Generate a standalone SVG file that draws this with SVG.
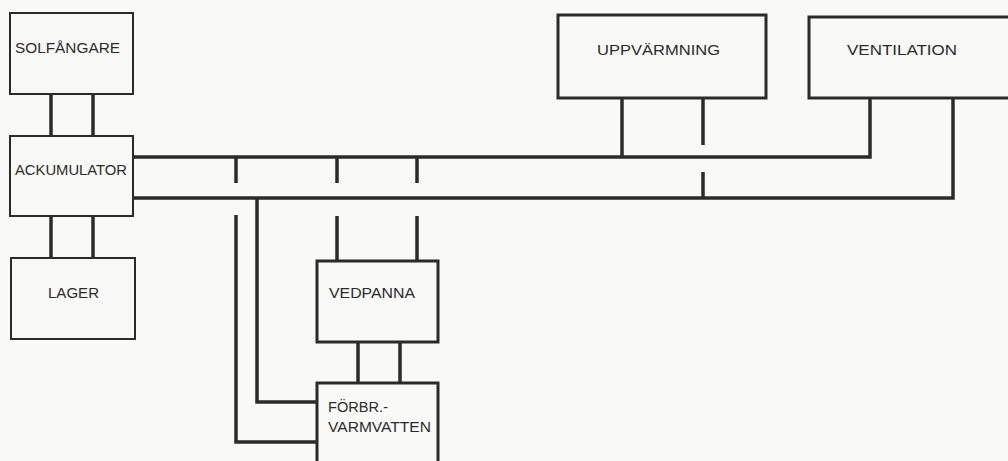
<svg xmlns="http://www.w3.org/2000/svg" width="1008" height="461" viewBox="0 0 1008 461">
<style>
.bx{fill:none;stroke:#2b2b2b;stroke-width:2}
.bx3{fill:none;stroke:#2b2b2b;stroke-width:3}
.ln{fill:none;stroke:#2b2b2b;stroke-width:3.5;stroke-linecap:butt;stroke-linejoin:miter}
.t{font-family:"Liberation Sans",Arial,sans-serif;font-size:14px;fill:#2b2b2b}
</style>
<rect width="1008" height="461" fill="#f9f9f7"/>
<g id="connectors">
<path class="ln" d="M51 94V136M93 94V136"/>
<path class="ln" d="M51 216V258M93 216V258"/>
<path class="ln" d="M133 157H870V98"/>
<path class="ln" d="M133 198H953V98"/>
<path class="ln" d="M622 98V157"/>
<path class="ln" d="M703 98V145M703 172V198"/>
<path class="ln" d="M236 157V183M337 157V183M417 157V183"/>
<path class="ln" d="M337 216V261M417 216V261"/>
<path class="ln" d="M236 215V442H317"/>
<path class="ln" d="M257 198V402H317"/>
<path class="ln" d="M358 342V383M400 342V383"/>
</g>
<g id="solfangare">
<rect class="bx" x="10" y="13" width="123" height="81"/>
<text class="t" x="15" y="53" textLength="105" lengthAdjust="spacingAndGlyphs">SOLFÅNGARE</text>
</g>
<g id="ackumulator">
<rect class="bx" x="10" y="136" width="123" height="80"/>
<text class="t" x="15" y="175" textLength="112" lengthAdjust="spacingAndGlyphs">ACKUMULATOR</text>
</g>
<g id="lager">
<rect class="bx" x="11" y="258" width="124" height="81"/>
<text class="t" x="48" y="298" textLength="51" lengthAdjust="spacingAndGlyphs">LAGER</text>
</g>
<g id="uppvarmning">
<rect class="bx3" x="558" y="15" width="208" height="83"/>
<text class="t" x="597" y="55" textLength="123" lengthAdjust="spacingAndGlyphs">UPPVÄRMNING</text>
</g>
<g id="ventilation">
<rect class="bx3" x="809" y="17" width="210" height="81"/>
<text class="t" x="847" y="55" textLength="110" lengthAdjust="spacingAndGlyphs">VENTILATION</text>
</g>
<g id="vedpanna">
<rect class="bx3" x="317" y="261" width="121" height="81"/>
<text class="t" x="329" y="298" textLength="86" lengthAdjust="spacingAndGlyphs">VEDPANNA</text>
</g>
<g id="forbr-varmvatten">
<rect class="bx3" x="317" y="383" width="121" height="90"/>
<text class="t" x="328" y="412" textLength="60" lengthAdjust="spacingAndGlyphs">FÖRBR.-</text>
<text class="t" x="328" y="432" textLength="103" lengthAdjust="spacingAndGlyphs">VARMVATTEN</text>
</g>
</svg>
